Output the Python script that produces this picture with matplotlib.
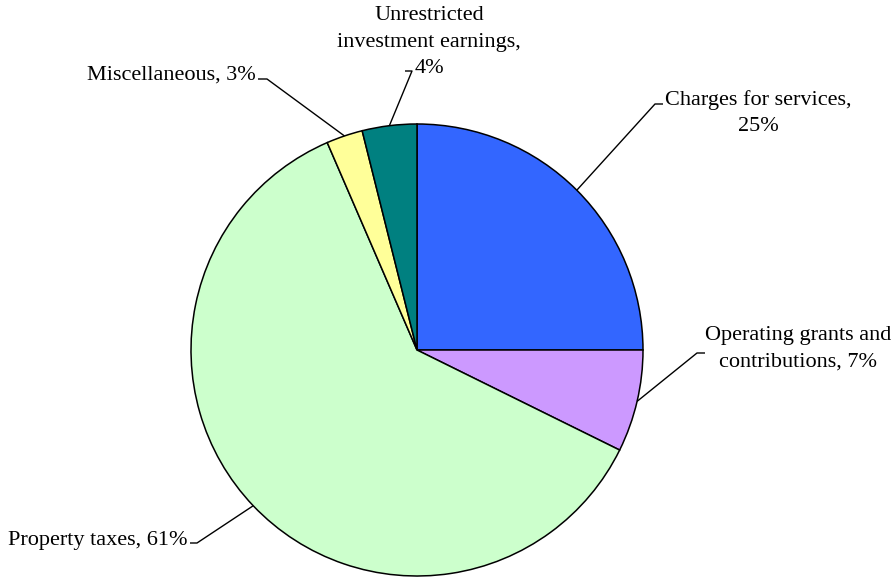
import numpy as np
import matplotlib
matplotlib.use("Agg")
import matplotlib.pyplot as plt

categories = ["Charges for services", "Operating grants and contributions",
              "Property taxes", "Miscellaneous", "Unrestricted investment earnings"]
values = [25.0, 7.3, 61.2, 2.6, 3.9]
label_texts = ["Charges for services,\n25%",
               "Operating grants and\ncontributions, 7%",
               "Property taxes, 61%",
               "Miscellaneous, 3%",
               "Unrestricted\ninvestment earnings,\n4%"]
colors = ["#3366FF", "#CC99FF", "#CCFFCC", "#FFFF99", "#008080"]

W, H = 893, 577
fig = plt.figure(figsize=(W / 100, H / 100), dpi=100)
ax = fig.add_axes([0, 0, 1, 1])

cx, cy, R = 417, H - 350, 226
wedges, _ = ax.pie(values, colors=colors, startangle=90, counterclock=False,
                   center=(cx, cy), radius=R,
                   wedgeprops=dict(edgecolor="black", linewidth=1.1))
ax.set_xlim(0, W)
ax.set_ylim(0, H)
ax.set_aspect("equal")
ax.axis("off")

# layout: elbow point, end point, text anchor (pixel coords from top), ha
layout = [
    ((655, 104), (663, 104), (758, 113), "center"),
    ((697, 353), (705, 353), (798, 349), "center"),
    ((197, 543), (190, 543), (187, 540), "right"),
    ((267, 79), (258, 79), (256, 75), "right"),
    ((412, 71), (405, 71), (429, 42), "center"),
]

for w, txt, (elb, end, tpos, ha) in zip(wedges, label_texts, layout):
    mid = np.deg2rad((w.theta1 + w.theta2) / 2)
    sx, sy = cx + R * np.cos(mid), cy + R * np.sin(mid)
    ax.plot([sx, elb[0], end[0]], [sy, H - elb[1], H - end[1]],
            color="black", linewidth=1.0, solid_capstyle="butt")
    ax.text(tpos[0], H - tpos[1], txt, ha=ha, va="center", multialignment="center",
            fontsize=16, family="Liberation Serif", linespacing=1.55)

fig.savefig("out.png", dpi=100)
